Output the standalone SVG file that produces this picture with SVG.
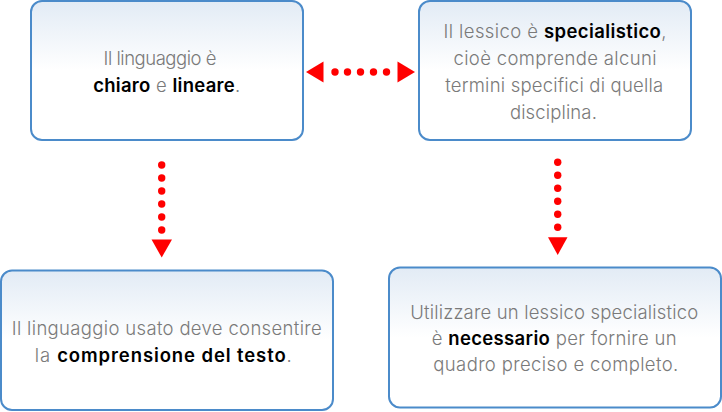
<svg xmlns="http://www.w3.org/2000/svg" width="722" height="412" viewBox="0 0 722 412">
<defs>
<linearGradient id="g" x1="0" y1="0" x2="0" y2="1">
<stop offset="0" stop-color="#e2ebf5"/>
<stop offset="0.5" stop-color="#ffffff"/>
<stop offset="1" stop-color="#ffffff"/>
</linearGradient>
</defs>
<style>
.box{fill:url(#g);stroke:#4b8bca;stroke-width:2}
.t{font-family:Inter,"Liberation Sans",sans-serif;font-weight:300;font-size:18.5px;fill:#7a7a7a;text-anchor:middle}
.b{font-weight:600;fill:#000}
.d{fill:#ff0000}
</style>
<g id="n1">
<rect class="box" x="31" y="1" width="272" height="139" rx="11"/>
<text class="t" x="160" y="65" textLength="113" lengthAdjust="spacing">Il linguaggio è</text>
<text class="t" x="166.7" y="92" textLength="147" lengthAdjust="spacing"><tspan class="b">chiaro</tspan> e <tspan class="b">lineare</tspan>.</text>
</g>
<g id="n2">
<rect class="box" x="419" y="1" width="272" height="139" rx="11"/>
<text class="t" x="555" y="38.3" textLength="223" lengthAdjust="spacing">Il lessico è <tspan class="b">specialistico</tspan>,</text>
<text class="t" x="555" y="65.2" textLength="203" lengthAdjust="spacing">cioè comprende alcuni</text>
<text class="t" x="554.2" y="92.1" textLength="218" lengthAdjust="spacing">termini specifici di quella</text>
<text class="t" x="553.4" y="119" textLength="87" lengthAdjust="spacing">disciplina.</text>
</g>
<g id="n3">
<rect class="box" x="1" y="270.5" width="332" height="139.5" rx="11"/>
<text class="t" x="166.7" y="335" textLength="310" lengthAdjust="spacing">Il linguaggio usato deve consentire</text>
<text class="t" x="163.3" y="361.7" textLength="257" lengthAdjust="spacing">la <tspan class="b">comprensione del testo</tspan>.</text>
</g>
<g id="n4">
<rect class="box" x="389" y="267.5" width="332" height="140" rx="11"/>
<text class="t" x="554.2" y="319" textLength="288" lengthAdjust="spacing">Utilizzare un lessico specialistico</text>
<text class="t" x="554.2" y="345" textLength="245" lengthAdjust="spacing">è <tspan class="b">necessario</tspan> per fornire un</text>
<text class="t" x="555.8" y="371" textLength="245" lengthAdjust="spacing">quadro preciso e completo.</text>
</g>
<g id="connectors">
<g id="c1">
<polygon class="d" points="306,72 323.5,61.5 323.5,82.5"/>
<circle class="d" cx="335" cy="72" r="3.7"/>
<circle class="d" cx="347.5" cy="72" r="3.7"/>
<circle class="d" cx="360.5" cy="72" r="3.7"/>
<circle class="d" cx="373.5" cy="72" r="3.7"/>
<circle class="d" cx="386.5" cy="72" r="3.7"/>
<polygon class="d" points="415,72 397.5,61.5 397.5,82.5"/>
</g>
<g id="c2">
<circle class="d" cx="161.7" cy="165" r="3.7"/>
<circle class="d" cx="161.7" cy="178" r="3.7"/>
<circle class="d" cx="161.7" cy="191" r="3.7"/>
<circle class="d" cx="161.7" cy="204" r="3.7"/>
<circle class="d" cx="161.7" cy="217" r="3.7"/>
<circle class="d" cx="161.7" cy="230" r="3.7"/>
<polygon class="d" points="151.5,239.5 172,239.5 161.7,257.5"/>
</g>
<g id="c3">
<circle class="d" cx="557.7" cy="162.3" r="3.7"/>
<circle class="d" cx="557.7" cy="175.3" r="3.7"/>
<circle class="d" cx="557.7" cy="188.3" r="3.7"/>
<circle class="d" cx="557.7" cy="201.3" r="3.7"/>
<circle class="d" cx="557.7" cy="214.3" r="3.7"/>
<circle class="d" cx="557.7" cy="227.3" r="3.7"/>
<polygon class="d" points="548,237.3 567.5,237.3 557.7,255"/>
</g>
</g>
</svg>
